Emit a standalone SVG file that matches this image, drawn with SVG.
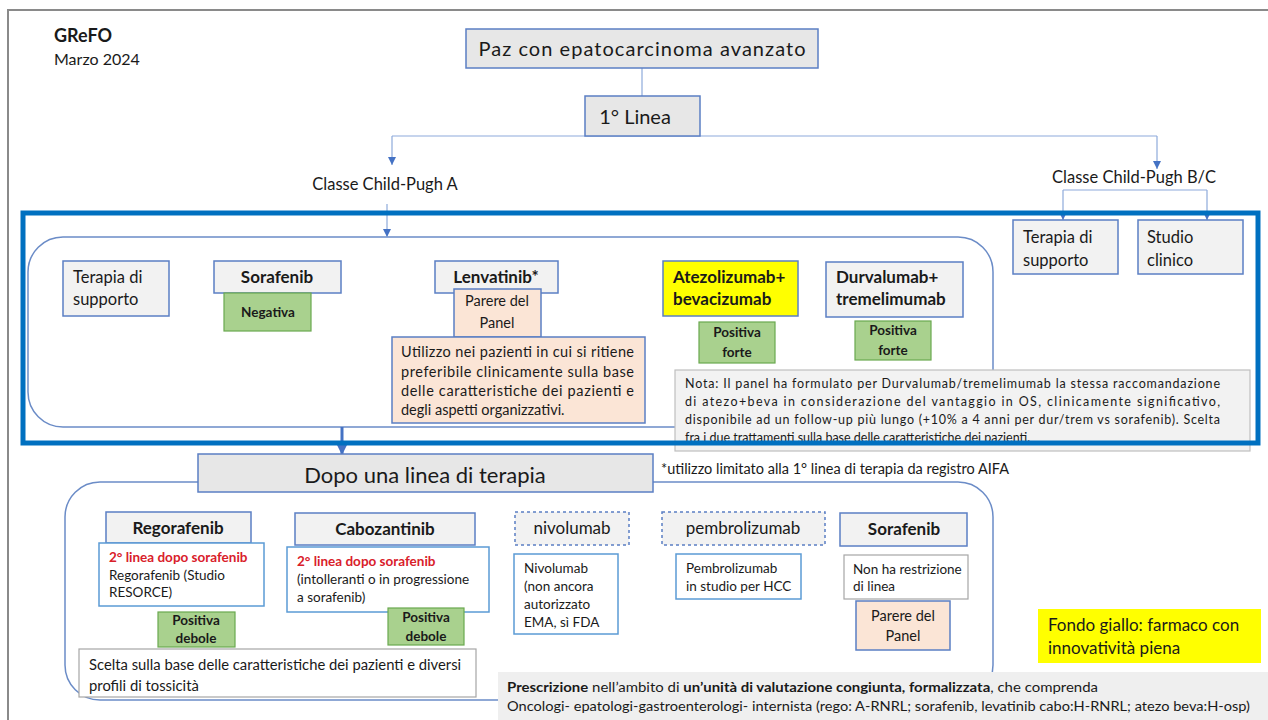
<svg xmlns="http://www.w3.org/2000/svg" width="1268" height="720" viewBox="0 0 1268 720">
<defs>
<style>
.t{font-family:Lato,"Open Sans","Liberation Sans",sans-serif;fill:#1a1a1a}
.b{font-weight:bold}
.m{text-anchor:middle}
.box{fill:#f2f2f2;stroke:#5b7fc4;stroke-width:1.5}
.grn{fill:#a9d18e;stroke:#6aa84f;stroke-width:1.2}
.peach{fill:#fbe5d6;stroke:#5b7fc4;stroke-width:1.5}
.wb{fill:#fff;stroke:#5b9bd5;stroke-width:1.5}
.gb{fill:#fff;stroke:#a6a6a6;stroke-width:1.2}
.dash{fill:#f2f2f2;stroke:#5b7fc4;stroke-width:1.5;stroke-dasharray:3 3}
.con{fill:none;stroke:#8eaadb;stroke-width:1.2}
.grp{fill:none;stroke:#6b8cc7;stroke-width:1.5}
.red{fill:#d9202a;font-weight:bold}
</style>
<marker id="ah" viewBox="0 0 10 10" refX="10" refY="5" markerWidth="8" markerHeight="8" markerUnits="userSpaceOnUse" orient="auto">
<path d="M0,0 L10,5 L0,10 z" fill="#4472c4"/>
</marker>
<marker id="ahb" viewBox="0 0 10 10" refX="10" refY="5" markerWidth="4" markerHeight="4" orient="auto">
<path d="M0,0 L10,5 L0,10 z" fill="#4472c4"/>
</marker>
</defs>
<rect x="0" y="0" width="1268" height="720" fill="#fff"/>
<path d="M8,720 V10 H1268" fill="none" stroke="#8a8a8a" stroke-width="2"/>

<g id="title">
<text class="t b" x="54" y="42" font-size="18">GReFO</text>
<text class="t" x="54" y="65" font-size="16">Marzo 2024</text>
</g>

<rect id="group1" class="grp" x="28" y="237" width="965" height="190" rx="35"/>
<rect id="group2" class="grp" x="65" y="482" width="928" height="218" rx="35"/>

<g id="connectors">
<line class="con" x1="642" y1="68" x2="642" y2="96"/>
<path class="con" d="M392,136 H1157" />
<path class="con" d="M392,136 V165" marker-end="url(#ah)"/>
<path class="con" d="M1157,136 V169" marker-end="url(#ah)"/>
<path class="con" d="M387,204 V237" marker-end="url(#ah)"/>
<path class="con" d="M1063,190 H1207"/>
<path class="con" d="M1063,190 V220" marker-end="url(#ah)"/>
<path class="con" d="M1207,190 V220" marker-end="url(#ah)"/>
<path d="M342,427 V455" fill="none" stroke="#4472c4" stroke-width="3" marker-end="url(#ahb)"/>
</g>

<g id="n-paz">
<rect class="box" x="466" y="29" width="352" height="39" style="fill:#e7e7e7"/>
<text class="t m" x="642" y="56" font-size="20" textLength="327">Paz con epatocarcinoma avanzato</text>
</g>
<g id="n-linea1">
<rect class="box" x="585" y="96" width="115" height="40" style="fill:#e7e7e7"/>
<text class="t m" x="635" y="124" font-size="20">1° Linea</text>
</g>
<g id="l-cpa"><text class="t m" x="385" y="190" font-size="16.5">Classe Child-Pugh A</text></g>
<g id="l-cpbc"><text class="t m" x="1134" y="183" font-size="16.5">Classe Child-Pugh B/C</text></g>

<g id="n-terapia-bc">
<rect class="box" x="1013" y="220" width="105" height="54"/>
<text class="t" x="1023" y="243" font-size="16.5">Terapia di</text>
<text class="t" x="1023" y="266" font-size="16.5">supporto</text>
</g>
<g id="n-studio">
<rect class="box" x="1138" y="220" width="105" height="54"/>
<text class="t" x="1147" y="243" font-size="16.5">Studio</text>
<text class="t" x="1147" y="266" font-size="16.5">clinico</text>
</g>

<g id="n-terapia-a">
<rect class="box" x="63" y="261" width="106" height="55"/>
<text class="t" x="73" y="283" font-size="16.5">Terapia di</text>
<text class="t" x="73" y="305" font-size="16.5">supporto</text>
</g>
<g id="n-sorafenib1">
<rect class="box" x="214" y="261" width="127" height="32"/>
<text class="t b m" x="277" y="283" font-size="17">Sorafenib</text>
<rect class="grn" x="224" y="293" width="87" height="38"/>
<text class="t b m" x="268" y="317" font-size="13.5">Negativa</text>
</g>
<g id="n-lenvatinib">
<rect class="box" x="435" y="261" width="123" height="32"/>
<text class="t b m" x="496" y="283" font-size="17">Lenvatinib*</text>
<rect class="peach" x="454" y="289" width="87" height="48"/>
<text class="t m" x="497" y="306" font-size="14.5">Parere del</text>
<text class="t m" x="497" y="328" font-size="14.5">Panel</text>
<rect class="peach" x="392" y="337" width="253" height="86"/>
<text class="t" x="401" y="357" font-size="14.5" textLength="233" lengthAdjust="spacing">Utilizzo nei pazienti in cui si ritiene</text>
<text class="t" x="401" y="377" font-size="14.5" textLength="233" lengthAdjust="spacing">preferibile clinicamente sulla base</text>
<text class="t" x="401" y="396" font-size="14.5" textLength="233" lengthAdjust="spacing">delle caratteristiche dei pazienti e</text>
<text class="t" x="401" y="415" font-size="14.5">degli  aspetti organizzativi.</text>
</g>
<g id="n-atezo">
<rect class="box" x="663" y="261" width="135" height="55" style="fill:#ffff00"/>
<text class="t b" x="673" y="283" font-size="17">Atezolizumab+</text>
<text class="t b" x="673" y="305" font-size="17">bevacizumab</text>
<rect class="grn" x="699" y="322" width="76" height="41"/>
<text class="t b m" x="737" y="337" font-size="13.5">Positiva</text>
<text class="t b m" x="737" y="357" font-size="13.5">forte</text>
</g>
<g id="n-durva">
<rect class="box" x="826" y="262" width="137" height="55"/>
<text class="t b" x="836" y="283" font-size="17">Durvalumab+</text>
<text class="t b" x="836" y="305" font-size="17">tremelimumab</text>
<rect class="grn" x="855" y="321" width="76" height="39"/>
<text class="t b m" x="893" y="335" font-size="13.5">Positiva</text>
<text class="t b m" x="893" y="355" font-size="13.5">forte</text>
</g>
<g id="n-nota">
<rect x="675" y="370" width="575" height="81" fill="#f2f2f2" stroke="#bfbfbf" stroke-width="1.2"/>
<text class="t" x="685" y="388" font-size="12.5" textLength="535" lengthAdjust="spacing">Nota: Il panel ha formulato per Durvalumab/tremelimumab  la stessa raccomandazione</text>
<text class="t" x="685" y="406" font-size="12.5" textLength="535" lengthAdjust="spacing">di atezo+beva in considerazione del vantaggio in OS, clinicamente significativo,</text>
<text class="t" x="685" y="424" font-size="12.5" textLength="535" lengthAdjust="spacing">disponibile ad un follow-up  più lungo (+10% a 4 anni per dur/trem vs sorafenib).  Scelta</text>
<text class="t" x="685" y="442" font-size="12.5">fra i due trattamenti sulla base delle caratteristiche dei pazienti.</text>
</g>

<rect id="frame1" x="23" y="213" width="1235" height="230" fill="none" stroke="#0070c0" stroke-width="5"/>

<g id="n-dopo">
<rect class="box" x="198" y="454" width="455" height="38" style="fill:#e7e7e7"/>
<text class="t m" x="425" y="483" font-size="22">Dopo una linea di terapia</text>
</g>
<g id="l-aifa"><text class="t" x="661" y="474" font-size="14.5">*utilizzo limitato alla 1° linea di terapia da registro AIFA</text></g>

<g id="n-regorafenib">
<rect class="box" x="106" y="512" width="145" height="31"/>
<text class="t b m" x="178" y="534" font-size="17">Regorafenib</text>
<rect class="wb" x="99" y="543" width="165" height="63"/>
<text class="t red" x="109" y="562" font-size="13.5">2° linea dopo sorafenib</text>
<text class="t" x="109" y="580" font-size="13.5">Regorafenib (Studio</text>
<text class="t" x="109" y="597" font-size="13.5">RESORCE)</text>
<rect class="grn" x="158" y="612" width="77" height="35"/>
<text class="t b m" x="196" y="625" font-size="13.5">Positiva</text>
<text class="t b m" x="196" y="643" font-size="13.5">debole</text>
</g>
<g id="n-cabozantinib">
<rect class="box" x="295" y="513" width="180" height="32"/>
<text class="t b m" x="385" y="535" font-size="17">Cabozantinib</text>
<rect class="wb" x="287" y="547" width="202" height="65"/>
<text class="t red" x="297" y="566" font-size="13.5">2° linea dopo sorafenib</text>
<text class="t" x="297" y="584" font-size="13.5">(intolleranti o in progressione</text>
<text class="t" x="297" y="602" font-size="13.5">a sorafenib)</text>
<rect class="grn" x="388" y="608" width="76" height="37"/>
<text class="t b m" x="426" y="622" font-size="13.5">Positiva</text>
<text class="t b m" x="426" y="641" font-size="13.5">debole</text>
</g>
<g id="n-scelta">
<rect class="gb" x="79" y="649" width="397" height="48"/>
<text class="t" x="89" y="670" font-size="14.8">Scelta sulla base delle caratteristiche dei pazienti e diversi</text>
<text class="t" x="89" y="691" font-size="14.8">profili di tossicità</text>
</g>
<g id="n-nivolumab">
<rect class="dash" x="515" y="512" width="114" height="33"/>
<text class="t m" x="572" y="534" font-size="17">nivolumab</text>
<rect class="wb" x="514" y="554" width="104" height="80"/>
<text class="t" x="524" y="573" font-size="13.5">Nivolumab</text>
<text class="t" x="524" y="591" font-size="13.5">(non ancora</text>
<text class="t" x="524" y="609" font-size="13.5">autorizzato</text>
<text class="t" x="524" y="627" font-size="13.5">EMA, sì FDA</text>
</g>
<g id="n-pembrolizumab">
<rect class="dash" x="662" y="512" width="163" height="33"/>
<text class="t m" x="743" y="534" font-size="17">pembrolizumab</text>
<rect class="wb" x="676" y="554" width="125" height="45"/>
<text class="t" x="686" y="573" font-size="13.5">Pembrolizumab</text>
<text class="t" x="686" y="591" font-size="13.5">in studio per HCC</text>
</g>
<g id="n-sorafenib2">
<rect class="box" x="840" y="513" width="127" height="33"/>
<text class="t b m" x="904" y="535" font-size="17">Sorafenib</text>
<rect class="gb" x="844" y="555" width="124" height="44"/>
<text class="t" x="853" y="574" font-size="13.5">Non ha restrizione</text>
<text class="t" x="853" y="591" font-size="13.5">di linea</text>
<rect class="peach" x="856" y="601" width="94" height="49"/>
<text class="t m" x="903" y="621" font-size="14.5">Parere del</text>
<text class="t m" x="903" y="641" font-size="14.5">Panel</text>
</g>
<g id="n-legenda">
<rect x="1038" y="609" width="223" height="54" fill="#ffff00"/>
<text class="t" x="1048" y="631" font-size="17">Fondo giallo: farmaco con</text>
<text class="t" x="1048" y="654" font-size="17">innovatività piena</text>
</g>
<g id="n-prescrizione">
<rect x="498" y="672" width="770" height="48" fill="#efefef"/>
<text class="t" x="507" y="692" font-size="13.5" textLength="591" lengthAdjust="spacingAndGlyphs"><tspan class="b">Prescrizione</tspan> nell’ambito di <tspan class="b">un’unità di valutazione congiunta, formalizzata</tspan>, che comprenda</text>
<text class="t" x="507" y="711" font-size="13.5" textLength="743" lengthAdjust="spacingAndGlyphs">Oncologi- epatologi-gastroenterologi- internista (rego: A-RNRL; sorafenib, levatinib cabo:H-RNRL; atezo beva:H-osp)</text>
</g>
</svg>
